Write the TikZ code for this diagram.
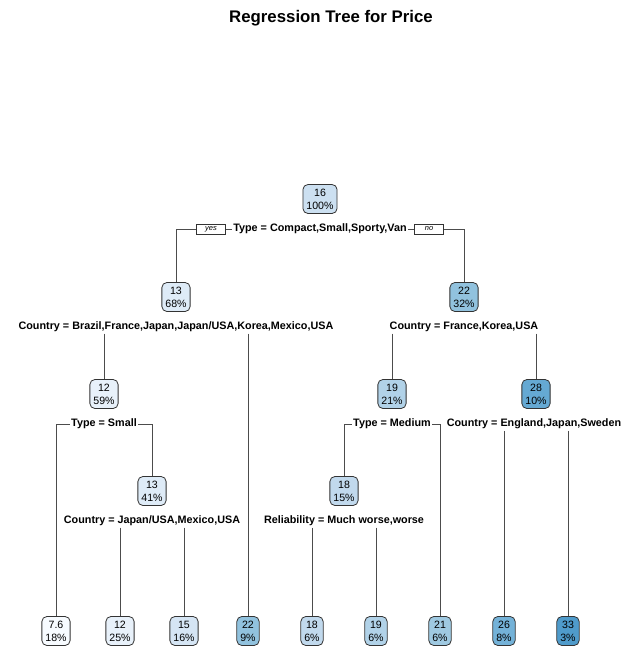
\documentclass[tikz,border=0pt]{standalone}
\usepackage{fontspec}
\setmainfont{Liberation Sans}
\begin{document}
\begin{tikzpicture}[x=1pt,y=-1pt,
  tnode/.style={draw=black!80, line width=0.8pt, rounded corners=5pt, align=center,
    font=\fontsize{10.6}{12.8}\selectfont, inner xsep=3.5pt, inner ysep=2.5pt, minimum height=29pt},
  slabel/.style={font=\fontsize{10.8}{12}\selectfont\bfseries, inner sep=1.5pt, fill=white},
  ynbox/.style={draw=black!80, line width=0.6pt, font=\fontsize{7.5}{8}\selectfont\itshape,
    minimum width=29pt, minimum height=10pt, inner sep=0.5pt, fill=white},
  conn/.style={draw=black!70, line width=0.8pt}]
\definecolor{c76}{HTML}{F7FBFF}
\definecolor{c12}{HTML}{E8F1FA}
\definecolor{c13}{HTML}{DEEBF7}
\definecolor{c15}{HTML}{D5E5F4}
\definecolor{c16}{HTML}{CCE0F1}
\definecolor{c18}{HTML}{C1D9ED}
\definecolor{c19}{HTML}{B1D2E8}
\definecolor{c21}{HTML}{9FC9E1}
\definecolor{c22}{HTML}{91C2DE}
\definecolor{c26}{HTML}{74B2D8}
\definecolor{c28}{HTML}{65A9D3}
\definecolor{c33}{HTML}{4F9BCB}
\useasboundingbox (0,0) rectangle (627,649);

\node[font=\fontsize{16.8}{18}\selectfont\bfseries] (title) at (331,18) {Regression Tree for Price};

% internal nodes
\node[tnode, fill=c16] (root) at (320,199) {16\\100\%};
\node[slabel] (lroot) at (320,229) {Type = Compact,Small,Sporty,Van};
\node[ynbox] (yes) at (211,229) {yes};
\node[ynbox] (no) at (429,229) {no};

\node[tnode, fill=c13] (n2) at (176,297) {13\\68\%};
\node[slabel] (l2) at (176,327) {Country = Brazil,France,Japan,Japan/USA,Korea,Mexico,USA};
\node[tnode, fill=c22] (n3) at (464,297) {22\\32\%};
\node[slabel] (l3) at (464,327) {Country = France,Korea,USA};

\node[tnode, fill=c12] (n4) at (104,394) {12\\59\%};
\node[slabel] (l4) at (104,424) {Type = Small};
\node[tnode, fill=c19] (n6) at (392,394) {19\\21\%};
\node[slabel] (l6) at (392,424) {Type = Medium};
\node[tnode, fill=c28] (n7) at (536,394) {28\\10\%};
\node[slabel] (l7) at (534,424) {Country = England,Japan,Sweden};

\node[tnode, fill=c13] (n9) at (152,491) {13\\41\%};
\node[slabel] (l9) at (152,521) {Country = Japan/USA,Mexico,USA};
\node[tnode, fill=c18] (n12) at (344,491) {18\\15\%};
\node[slabel] (l12) at (344,521) {Reliability = Much worse,worse};

% leaves
\node[tnode, fill=c76] (f1) at (56,631) {7.6\\18\%};
\node[tnode, fill=c12] (f2) at (120,631) {12\\25\%};
\node[tnode, fill=c15] (f3) at (184,631) {15\\16\%};
\node[tnode, fill=c22] (f4) at (248,631) {22\\9\%};
\node[tnode, fill=c18] (f5) at (312,631) {18\\6\%};
\node[tnode, fill=c19] (f6) at (376,631) {19\\6\%};
\node[tnode, fill=c21] (f7) at (440,631) {21\\6\%};
\node[tnode, fill=c26] (f8) at (504,631) {26\\8\%};
\node[tnode, fill=c33] (f9) at (568,631) {33\\3\%};

% connectors
\path[conn] (yes.west) -| (n2.north);
\path[conn] (yes.east) -- (lroot.west);
\path[conn] (lroot.east) -- (no.west);
\path[conn] (no.east) -| (n3.north);

\path[conn] (n4.north |- l2.south) -- (n4.north);
\path[conn] (f4.north |- l2.south) -- (f4.north);
\path[conn] (n6.north |- l3.south) -- (n6.north);
\path[conn] (n7.north |- l3.south) -- (n7.north);

\path[conn] (l4.west) -| (f1.north);
\path[conn] (l4.east) -| (n9.north);
\path[conn] (l6.west) -| (n12.north);
\path[conn] (l6.east) -| (f7.north);
\path[conn] (f8.north |- l7.south) -- (f8.north);
\path[conn] (f9.north |- l7.south) -- (f9.north);

\path[conn] (f2.north |- l9.south) -- (f2.north);
\path[conn] (f3.north |- l9.south) -- (f3.north);
\path[conn] (f5.north |- l12.south) -- (f5.north);
\path[conn] (f6.north |- l12.south) -- (f6.north);
\end{tikzpicture}
\end{document}
